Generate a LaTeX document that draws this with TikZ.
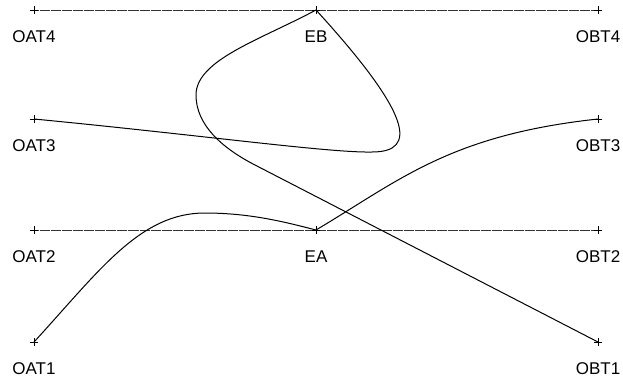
\documentclass[tikz,border=0pt]{standalone}
\usepackage{fontspec}
\setmainfont{Liberation Sans}
\usetikzlibrary{shapes.misc}
\begin{document}
\begin{tikzpicture}[x=1pt,y=-1pt,
  plusmk/.style={cross out, draw=black, rotate=45, minimum size=5.5pt, inner sep=0pt, outer sep=0pt, line width=0.6pt},
  lbl/.style={font=\fontsize{17}{20}\selectfont, text=black, inner sep=0pt},
  guide/.style={draw=black!80, line width=0.8pt, dash pattern=on 0.8pt off 0.3pt},
  curve/.style={draw=black, line width=1pt}]
\useasboundingbox (0,0) rectangle (623,381);
\coordinate (oat4) at (34,10);
\coordinate (eb) at (316,10);
\coordinate (obt4) at (598,10);
\coordinate (oat3) at (34,119);
\coordinate (obt3) at (598,119);
\coordinate (oat2) at (34,230);
\coordinate (ea) at (316,230);
\coordinate (obt2) at (598,230);
\coordinate (oat1) at (34,342);
\coordinate (obt1) at (598,342);
% guide lines
\draw[guide] (oat4) -- (eb) -- (obt4);
\draw[guide] (oat2) -- (ea) -- (obt2);
% curves
\draw[curve] (oat3) .. controls (200,135) and (330,153) .. (372,152)
  .. controls (418,152) and (412,115) .. (eb);
\draw[curve] (eb) .. controls (260,40) and (196,60) .. (196,95)
  .. controls (196,125) and (222,148) .. (255,165) -- (obt1);
\draw[curve] (oat1) .. controls (100,270) and (140,213) .. (205,213)
  .. controls (250,213) and (285,222) .. (ea);
\draw[curve] (ea) .. controls (400,180) and (450,135) .. (obt3);
% markers
\foreach \p in {oat4,eb,obt4,oat3,obt3,oat2,ea,obt2,oat1,obt1}
  \node[plusmk] at (\p) {};
% labels
\node[lbl] (toat4) at ([yshift=-27pt]oat4) {OAT4};
\node[lbl] (teb) at ([yshift=-27pt]eb) {EB};
\node[lbl] (tobt4) at ([yshift=-27pt]obt4) {OBT4};
\node[lbl] (toat3) at ([yshift=-27pt]oat3) {OAT3};
\node[lbl] (tobt3) at ([yshift=-27pt]obt3) {OBT3};
\node[lbl] (toat2) at ([yshift=-27pt]oat2) {OAT2};
\node[lbl] (tea) at ([yshift=-27pt]ea) {EA};
\node[lbl] (tobt2) at ([yshift=-27pt]obt2) {OBT2};
\node[lbl] (toat1) at ([yshift=-27pt]oat1) {OAT1};
\node[lbl] (tobt1) at ([yshift=-27pt]obt1) {OBT1};
\end{tikzpicture}
\end{document}
